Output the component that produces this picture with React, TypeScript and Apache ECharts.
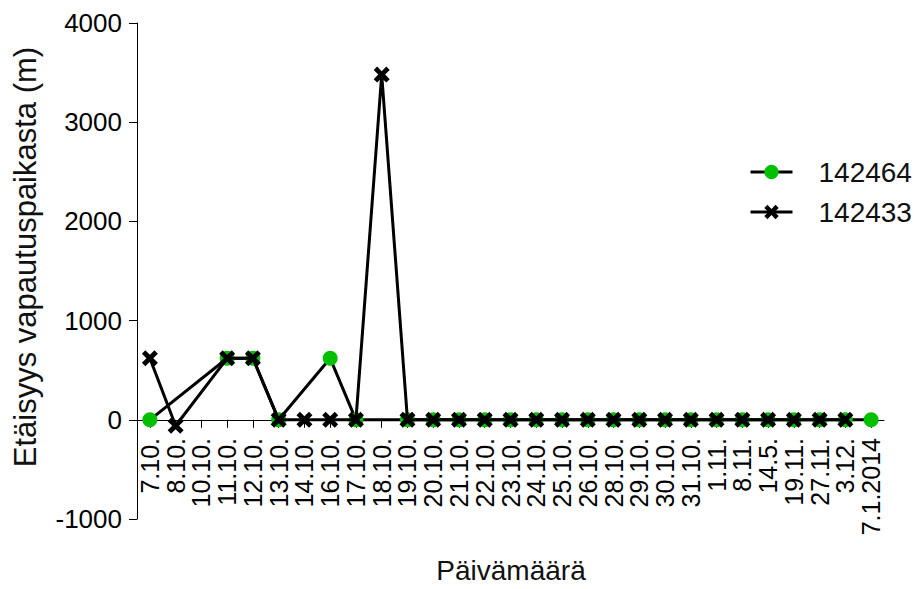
import React, { useEffect, useRef } from "react";
import * as echarts from "echarts";

const categories = [
  "7.10.", "8.10.", "10.10.", "11.10.", "12.10.", "13.10.", "14.10.", "16.10.",
  "17.10.", "18.10.", "19.10.", "20.10.", "21.10.", "22.10.", "23.10.", "24.10.",
  "25.10.", "26.10.", "28.10.", "29.10.", "30.10.", "31.10.", "1.11.", "8.11.",
  "14.5.", "19.11.", "27.11.", "3.12.", "7.1.2014",
];

const series142464 = [
  0, null, null, 620, 620, 0, null, 620, 0, null, 0, 0, 0, 0, 0, 0,
  0, 0, 0, 0, 0, 0, 0, 0, 0, 0, 0, 0, 0,
];

const series142433 = [
  620, -60, null, 620, 620, 0, 0, 0, 0, 3480, 0, 0, 0, 0, 0, 0,
  0, 0, 0, 0, 0, 0, 0, 0, 0, 0, 0, 0, null,
];

const seriesNames = ["142464", "142433"];
const yTicks = { min: -1000, max: 4000, interval: 1000 };
const yTitle = "Etäisyys vapautuspaikasta (m)";
const xTitle = "Päivämäärä";

const FONT = '"Liberation Sans", Arial, sans-serif';
const X_SYMBOL =
  "path://M0,3 L3,0 L7,4 L11,0 L14,3 L10,7 L14,11 L11,14 L7,10 L3,14 L0,11 L4,7 Z";

export default function App() {
  const ref = useRef<HTMLDivElement>(null);
  useEffect(() => {
    if (!ref.current) return;
    const chart = echarts.init(ref.current, undefined, { renderer: "svg" });
    chart.setOption({
      animation: false,
      backgroundColor: "#ffffff",
      grid: {
        left: 137,
        right: 30,
        top: 23,
        bottom: 70,
        containLabel: false,
        outerBoundsMode: "none",
      },
      legend: {
        orient: "vertical",
        left: 744,
        top: 152,
        itemWidth: 42,
        itemHeight: 18,
        itemGap: 10,
        data: seriesNames,
        lineStyle: { width: 3, color: "#000" },
        textStyle: {
          fontFamily: FONT,
          fontSize: 28,
          color: "#111",
          lineHeight: 30,
          padding: [0, 0, 0, 21],
        },
      },
      xAxis: {
        type: "category",
        data: categories,
        boundaryGap: true,
        axisLine: { onZero: true, lineStyle: { color: "#000", width: 1 } },
        axisTick: { show: true, alignWithLabel: true, length: 8, lineStyle: { color: "#000" } },
        axisLabel: {
          interval: 0,
          rotate: 90,
          margin: -81,
          fontFamily: FONT,
          fontSize: 25,
          color: "#000",
        },
        splitLine: { show: false },
      },
      yAxis: {
        type: "value",
        min: yTicks.min,
        max: yTicks.max,
        interval: yTicks.interval,
        axisLine: { show: true, onZero: false, lineStyle: { color: "#000", width: 1 } },
        axisTick: { show: true, length: 8, lineStyle: { color: "#000" } },
        axisLabel: {
          margin: 15,
          fontFamily: FONT,
          fontSize: 26,
          color: "#000",
          formatter: (v: number) => String(v),
        },
        splitLine: { show: false },
      },
      graphic: [
        {
          type: "text",
          x: 25,
          y: 257,
          rotation: Math.PI / 2,
          style: {
            text: yTitle,
            font: `31px ${FONT}`,
            fill: "#111",
            textAlign: "center",
            textVerticalAlign: "middle",
          },
        },
        {
          type: "text",
          x: 511,
          y: 570,
          style: {
            text: xTitle,
            font: `28px ${FONT}`,
            fill: "#111",
            textAlign: "center",
            textVerticalAlign: "middle",
          },
        },
      ],
      series: [
        {
          name: seriesNames[0],
          type: "line",
          data: series142464,
          connectNulls: true,
          symbol: "circle",
          symbolSize: 15,
          showAllSymbol: true,
          lineStyle: { color: "#000", width: 3 },
          itemStyle: { color: "#00c000", borderWidth: 0 },
          z: 2,
        },
        {
          name: seriesNames[1],
          type: "line",
          data: series142433,
          connectNulls: true,
          symbol: X_SYMBOL,
          symbolSize: 16,
          showAllSymbol: true,
          lineStyle: { color: "#000", width: 3 },
          itemStyle: { color: "#000", borderWidth: 0 },
          z: 3,
        },
      ],
    });
    return () => chart.dispose();
  }, []);
  return (
    <div
      ref={ref}
      style={{ position: "fixed", left: 0, top: 0, width: 914, height: 589 }}
    />
  );
}
